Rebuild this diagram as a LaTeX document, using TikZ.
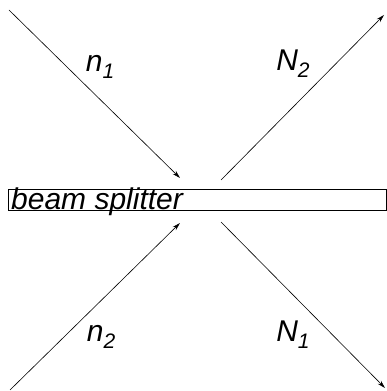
\documentclass[tikz,border=0pt]{standalone}
\usepackage{fontspec}
\setmainfont{Liberation Sans}
\usetikzlibrary{arrows.meta}
\newcommand{\beamsub}[1]{\raisebox{-7pt}{\fontsize{21}{24}\selectfont #1}}
\tikzset{
  beam/.style={line width=0.6pt,-{Stealth[length=8pt,width=4.5pt]}},
  beamlabel/.style={font=\fontsize{30}{34}\selectfont\itshape,inner sep=0pt}
}

\begin{document}
\begin{tikzpicture}[x=1pt,y=1pt]
  \useasboundingbox (0,0) rectangle (386,391);
  % beam splitter
  \node[draw,line width=0.6pt,anchor=south west,minimum width=377.5pt,minimum height=21pt,inner sep=0pt] (splitter) at (8,180) {};
  \node[beamlabel,anchor=base west] (splittertext) at (11,181) {beam splitter};
  % beam ends
  \coordinate (n1in) at (9,381);
  \coordinate (n1out) at (180,213);
  \coordinate (n2in) at (10,1);
  \coordinate (n2out) at (180,168);
  \coordinate (N2in) at (221,211);
  \coordinate (N2out) at (384,376);
  \coordinate (N1in) at (221,169);
  \coordinate (N1out) at (385,3);
  \draw[beam] (n1in) -- (n1out);
  \draw[beam] (n2in) -- (n2out);
  \draw[beam] (N2in) -- (N2out);
  \draw[beam] (N1in) -- (N1out);
  % labels
  \node[beamlabel] (n1label) at (100,324) {n\beamsub{1}};
  \node[beamlabel] (N2label) at (293,327) {N\beamsub{2}};
  \node[beamlabel] (n2label) at (101,54) {n\beamsub{2}};
  \node[beamlabel] (N1label) at (293,56) {N\beamsub{1}};
\end{tikzpicture}
\end{document}
